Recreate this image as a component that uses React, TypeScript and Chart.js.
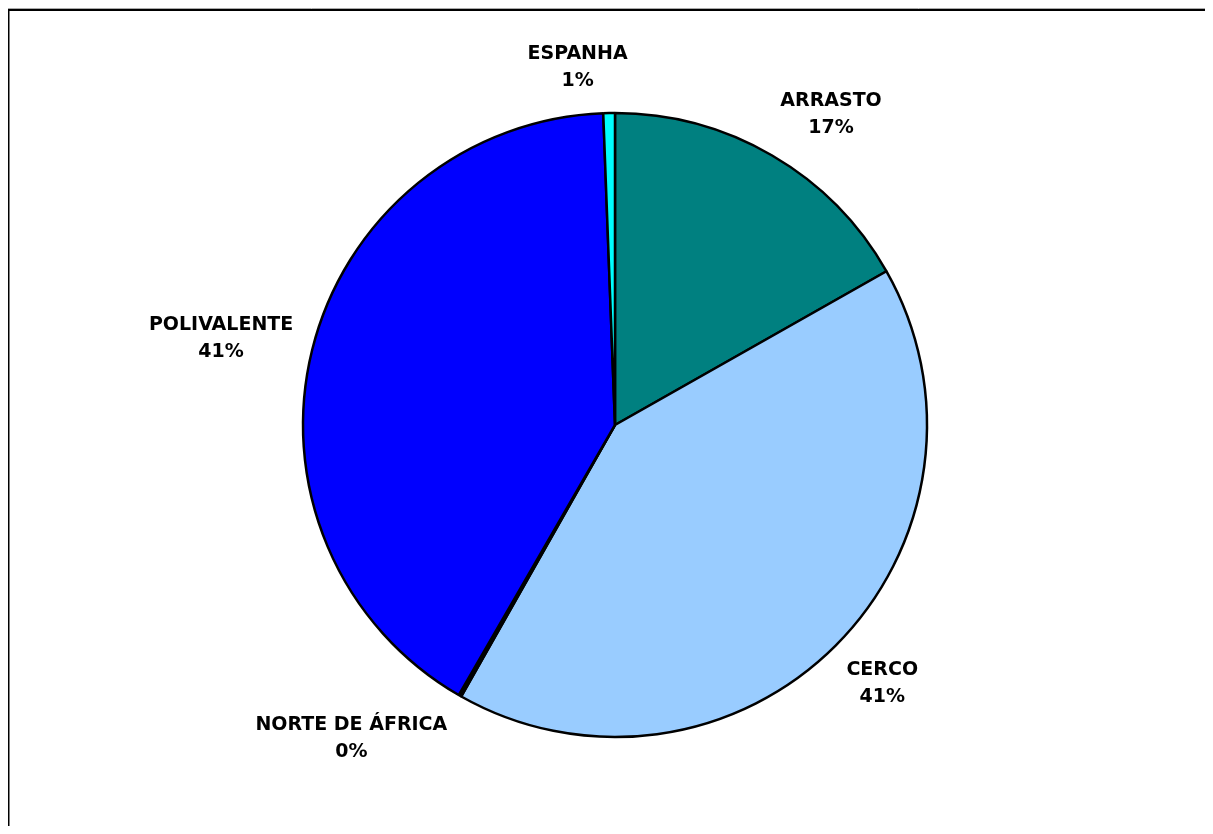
import React, { useEffect, useRef } from "react";
import { Chart, registerables } from "chart.js";

Chart.register(...registerables);

const categories = ["ARRASTO", "CERCO", "NORTE DE ÁFRICA", "POLIVALENTE", "ESPANHA"];
const shares = [16.8, 41.4, 0.15, 41.05, 0.6];
const sliceColors = ["#008080", "#99CCFF", "#000000", "#0000FF", "#00FFFF"];
// angular nudges (degrees) applied to label placement, like Excel's best-fit
const labelNudges = [4.6, -1, 10.3, -1.6, -4.9];

const labelPlugin = {
  id: "outsideLabels",
  afterDatasetsDraw(chart: any) {
    const ctx = chart.ctx;
    const meta = chart.getDatasetMeta(0);
    const total = shares.reduce((a, b) => a + b, 0);
    const lineH = 27;
    const pad = 15;
    ctx.save();
    ctx.font = 'bold 19px "DejaVu Sans"';
    ctx.fillStyle = "#000";
    ctx.textAlign = "center";
    ctx.textBaseline = "middle";
    meta.data.forEach((arc: any, i: number) => {
      const p = arc.getProps(["x", "y", "startAngle", "endAngle", "outerRadius"], true);
      const mid = (p.startAngle + p.endAngle) / 2 + (labelNudges[i] * Math.PI) / 180;
      const pct = Math.round((shares[i] / total) * 100) + "%";
      const w = Math.max(ctx.measureText(categories[i]).width, ctx.measureText(pct).width);
      const h = lineH * 2;
      const c = Math.cos(mid);
      const s = Math.sin(mid);
      const d = p.outerRadius + pad + (Math.abs(c) * w) / 2 + (Math.abs(s) * h) / 2;
      const cx = p.x + c * d;
      const cy = p.y + s * d;
      ctx.fillText(categories[i], cx, cy - lineH / 2);
      ctx.fillText(pct, cx, cy + lineH / 2);
    });
    ctx.restore();
  },
};

const framePlugin = {
  id: "frame",
  beforeDraw(chart: any) {
    const ctx = chart.ctx;
    ctx.save();
    ctx.fillStyle = "#fff";
    ctx.fillRect(0, 0, chart.width, chart.height);
    ctx.strokeStyle = "#aaa";
    ctx.lineWidth = 1;
    ctx.beginPath();
    ctx.moveTo(0, 0.5);
    ctx.lineTo(chart.width, 0.5);
    ctx.stroke();
    ctx.strokeStyle = "#000";
    ctx.lineWidth = 2;
    ctx.beginPath();
    ctx.moveTo(0.5, chart.height + 10);
    ctx.lineTo(0.5, 2);
    ctx.lineTo(chart.width + 10, 2);
    ctx.stroke();
    ctx.restore();
  },
};

export default function App() {
  const ref = useRef<HTMLCanvasElement>(null);
  useEffect(() => {
    if (!ref.current) return;
    const chart = new Chart(ref.current, {
      type: "pie",
      data: {
        labels: categories,
        datasets: [
          {
            data: shares,
            backgroundColor: sliceColors,
            borderColor: "#000",
            borderWidth: 2.5,
          },
        ],
      },
      options: {
        responsive: false,
        animation: false,
        radius: 312,
        layout: { padding: 0 },
        plugins: {
          legend: { display: false },
          tooltip: { enabled: false },
        },
      } as any,
      plugins: [framePlugin, labelPlugin],
    });
    return () => chart.destroy();
  }, []);
  return (
    <div style={{ width: 1205, height: 826, marginBottom: -8, overflow: "hidden" }}>
      <canvas ref={ref} width={1214} height={834} style={{ display: "block" }} />
    </div>
  );
}
